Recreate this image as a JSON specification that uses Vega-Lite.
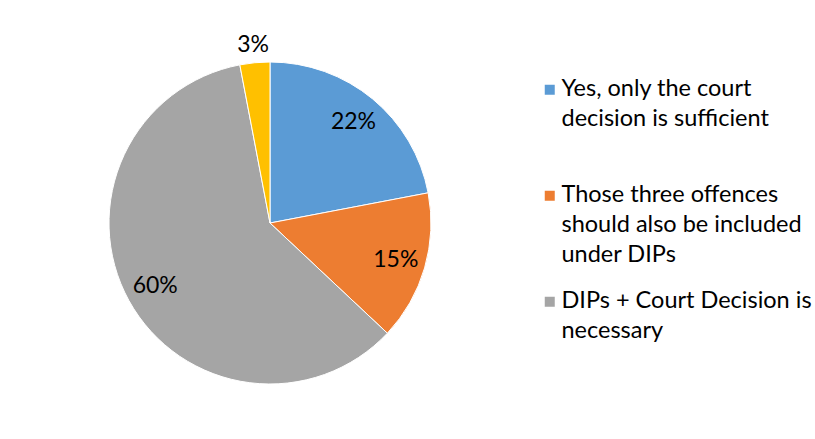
{
  "$schema": "https://vega.github.io/schema/vega-lite/v6.json",
  "width": 528,
  "height": 434,
  "padding": {"left": 6, "top": 6, "right": 0, "bottom": 0},
  "autosize": {"type": "pad"},
  "background": "white",
  "config": {
    "view": {"stroke": null},
    "font": "Lato",
    "style": {"guide-label": {"lineHeight": 30, "dy": -13}}
  },
  "data": {
    "values": [
      {"k": 1, "answer": "Yes, only the court decision is sufficient", "share": 0.22},
      {"k": 2, "answer": "Those three offences should also be included under DIPs", "share": 0.15},
      {"k": 3, "answer": "DIPs + Court Decision is necessary", "share": 0.60},
      {"k": 4, "answer": "Other", "share": 0.03}
    ]
  },
  "transform": [
    {"stack": "share", "groupby": [], "sort": [{"field": "k", "order": "ascending"}], "as": ["s0", "s1"]},
    {"calculate": "(datum.s0 + datum.s1) / 2", "as": "mid"}
  ],
  "layer": [
    {
      "mark": {"type": "arc", "outerRadius": 161, "stroke": "white", "strokeWidth": 1},
      "encoding": {
        "theta": {"field": "s0", "type": "quantitative", "scale": {"domain": [0, 1]}},
        "theta2": {"field": "s1"},
        "color": {
          "field": "answer",
          "type": "nominal",
          "sort": null,
          "scale": {
            "domain": [
              "Yes, only the court decision is sufficient",
              "Those three offences should also be included under DIPs",
              "DIPs + Court Decision is necessary",
              "Other"
            ],
            "range": ["#5B9BD5", "#ED7D31", "#A5A5A5", "#FFC000"]
          },
          "legend": {
            "title": null,
            "orient": "none",
            "legendX": 532,
            "legendY": 72,
            "values": [
              "Yes, only the court decision is sufficient",
              "Those three offences should also be included under DIPs",
              "DIPs + Court Decision is necessary"
            ],
            "symbolType": "square",
            "symbolSize": 100,
            "symbolStrokeWidth": 0,
            "labelFont": "Lato",
            "labelFontSize": 23.5,
            "labelColor": "#000000",
            "labelLimit": 400,
            "labelOffset": 0,
            "labelBaseline": "top",
            "rowPadding": 21,
            "labelExpr": "datum.value == 'Yes, only the court decision is sufficient' ? ['Yes, only the court', 'decision is sufficient', ''] : datum.value == 'Those three offences should also be included under DIPs' ? ['Those three offences', 'should also be included', 'under DIPs'] : ['DIPs + Court Decision is', 'necessary']"
          }
        }
      }
    },
    {
      "transform": [{"filter": "datum.share >= 0.05"}],
      "mark": {"type": "text", "radius": 131, "font": "Lato", "fontSize": 23, "color": "#000000"},
      "encoding": {
        "theta": {"field": "mid", "type": "quantitative", "scale": {"domain": [0, 1]}},
        "text": {"field": "share", "type": "quantitative", "format": ".0%"}
      }
    },
    {
      "transform": [{"filter": "datum.share < 0.05"}],
      "mark": {"type": "text", "radius": 179, "font": "Lato", "fontSize": 23, "color": "#000000"},
      "encoding": {
        "theta": {"field": "mid", "type": "quantitative", "scale": {"domain": [0, 1]}},
        "text": {"field": "share", "type": "quantitative", "format": ".0%"}
      }
    }
  ]
}
